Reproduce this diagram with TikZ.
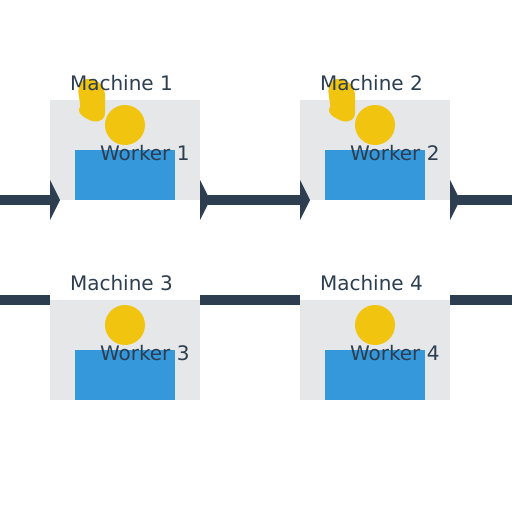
\documentclass[tikz,border=0pt]{standalone}
\usepackage{fontspec}
\setmainfont{DejaVu Sans}
\usetikzlibrary{arrows.meta}
\definecolor{ink}{HTML}{2C3E50}
\definecolor{sun}{HTML}{F1C40F}
\definecolor{sky}{HTML}{3498DB}
\definecolor{panel}{HTML}{E5E7E9}
\tikzset{
  machinebox/.style={fill=panel,draw=none,minimum width=150pt,minimum height=100pt,inner sep=0pt,outer sep=0pt},
  bodybox/.style={fill=sky,draw=none,minimum width=100pt,minimum height=50pt,inner sep=0pt,outer sep=0pt},
  headdot/.style={circle,fill=sun,draw=none,minimum size=40pt,inner sep=0pt,outer sep=0pt},
  lab/.style={text=ink,font=\fontsize{20}{24}\selectfont,anchor=base west,inner sep=0pt,outer sep=0pt},
  belt/.style={draw=ink,line width=10pt},
  tipout/.style={belt,-{Triangle[length=10pt,width=40pt]}},
  tipboth/.style={belt,{Triangle[reversed,length=10pt,width=40pt]}-{Triangle[length=10pt,width=40pt]}},
  tipin/.style={belt,{Triangle[reversed,length=10pt,width=40pt]}-},
  arm/.style={fill=sun,draw=none}
}
\begin{document}
\begin{tikzpicture}[x=1pt,y=-1pt]
\useasboundingbox (0,0) rectangle (512,512);
\fill[white] (0,0) rectangle (512,512);
% machines
\node[machinebox] (m1) at (125,150) {};
\node[machinebox] (m2) at (375,150) {};
\node[machinebox] (m3) at (125,350) {};
\node[machinebox] (m4) at (375,350) {};
% workers
\node[bodybox] (b1) at (125,175) {};
\node[bodybox] (b2) at (375,175) {};
\node[bodybox] (b3) at (125,375) {};
\node[bodybox] (b4) at (375,375) {};
\node[headdot] (h1) at (125,125) {};
\node[headdot] (h2) at (375,125) {};
\node[headdot] (h3) at (125,325) {};
\node[headdot] (h4) at (375,325) {};
% raised arms
\foreach \dx in {0,250}{
  \fill[arm,shift={(\dx,0)}] (87,79)
    .. controls (81,79) and (78,85) .. (78.5,93)
    .. controls (79,99) and (80.5,103) .. (80,107)
    .. controls (78,110) and (79,114) .. (84,117)
    .. controls (89,120) and (93,122) .. (97,121.5)
    .. controls (102,120.5) and (105,118) .. (105,113)
    -- (105,96)
    .. controls (105,88) and (100,82) .. (95,80.5)
    .. controls (92,79.5) and (90,79) .. (87,79) -- cycle;
}
% free ends
\coordinate (in1) at (0,200);
\coordinate (out1) at (512,200);
\coordinate (in2) at (0,300);
\coordinate (out2) at (512,300);
% belts
\draw[tipout] (in1) -- ([xshift=10pt]m1.south west);
\draw[tipboth] (m1.south east) -- ([xshift=10pt]m2.south west);
\draw[tipin] (m2.south east) -- (out1);
\draw[belt] (in2) -- (m3.north west);
\draw[belt] (m3.north east) -- (m4.north west);
\draw[belt] (m4.north east) -- (out2);
% labels
\node[lab] (t1) at (70,90) {Machine 1};
\node[lab] (t2) at (320,90) {Machine 2};
\node[lab] (t3) at (70,290) {Machine 3};
\node[lab] (t4) at (320,290) {Machine 4};
\node[lab] (w1) at (100,160) {Worker 1};
\node[lab] (w2) at (350,160) {Worker 2};
\node[lab] (w3) at (100,360) {Worker 3};
\node[lab] (w4) at (350,360) {Worker 4};
\end{tikzpicture}
\end{document}
